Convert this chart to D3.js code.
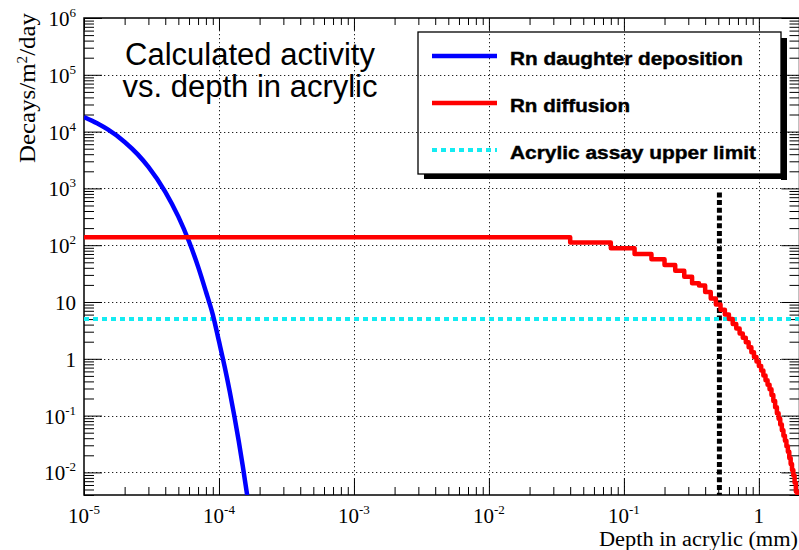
<!DOCTYPE html>
<html>
<head>
<meta charset="utf-8">
<script src="https://cdn.jsdelivr.net/npm/d3@7"></script>
<style>
  html, body { margin: 0; padding: 0; background: #fff; }
  svg { display: block; }
</style>
</head>
<body>
<svg id="chart" width="799" height="550"></svg>
<script>
// ---------- data ----------
const blueX = [1.0e-5, 1.25e-5, 1.5e-5, 2.0e-5, 2.5e-5, 3.0e-5, 4.0e-5, 5.0e-5, 6.0e-5, 7.0e-5, 8.0e-5, 9.0e-5, 1.0e-4, 1.1e-4, 1.2e-4, 1.3e-4, 1.4e-4, 1.5e-4, 1.64e-4];
const blueY = [1.81e4, 1.40e4, 1.09e4, 6.58e3, 3.97e3, 2.39e3, 871, 318, 116, 42, 15.3, 6.0, 2.03, 0.74, 0.27, 0.098, 0.036, 0.013, 0.0032];

const redX = [1e-5, 0.04, 0.08, 0.12, 0.16, 0.20, 0.24, 0.28, 0.32, 0.36, 0.40, 0.44, 0.48, 0.52, 0.56, 0.60, 0.64, 0.68, 0.72, 0.76,
              0.80, 0.84, 0.88, 0.92, 0.96, 1.00, 1.04, 1.08, 1.12, 1.16, 1.20, 1.24, 1.28, 1.32, 1.36, 1.40, 1.44, 1.48, 1.52, 1.56,
              1.60, 1.64, 1.68, 1.72, 1.76, 1.80, 1.84, 1.88, 1.92, 1.96, 2.00];
const redY = [138, 112, 88, 70, 56.5, 44.8, 35.5, 27.9, 21.3, 19.5, 15, 11.5, 9.0, 7.3, 6.0, 5.0, 4.1, 3.4, 2.8, 2.35,
              1.95, 1.6, 1.3, 1.08, 0.9, 0.75, 0.62, 0.51, 0.42, 0.35, 0.29, 0.23, 0.18, 0.14, 0.11, 0.088, 0.07, 0.055, 0.044, 0.036,
              0.029, 0.023, 0.018, 0.014, 0.011, 0.0088, 0.0066, 0.0046, 0.0032, 0.0022, 0.0022];

const assayLimit = 5.0;          // cyan dashed level
const markerDepth = 0.51;        // black dashed vertical (mm)
const markerTop = 850;

const xMajor = [1e-5, 1e-4, 1e-3, 1e-2, 1e-1, 1];
const xLabels = [["10","-5"],["10","-4"],["10","-3"],["10","-2"],["10","-1"],["1",""]];
const yMajor = [1e-2, 1e-1, 1, 10, 1e2, 1e3, 1e4, 1e5, 1e6];
const yLabels = [["10","-2"],["10","-1"],["1",""],["10",""],["10","2"],["10","3"],["10","4"],["10","5"],["10","6"]];
const xGrid = [1e-4, 1e-3, 1e-2, 1e-1, 1];
const yGrid = [1e-2, 1e-1, 1, 10, 1e2, 1e3, 1e4, 1e5];

const legendNames = ["Rn daughter deposition", "Rn diffusion", "Acrylic assay upper limit"];
const titleLines = ["Calculated activity", "vs. depth in acrylic"];
const xTitle = "Depth in acrylic (mm)";

// ---------- layout ----------
const L = 84, R = 799.5, T = 18, B = 495;
const svg = d3.select("#chart");
const x = d3.scaleLog().domain([1e-5, 2]).range([L, R]);
const y = d3.scaleLog().domain([0.004, 1e6]).range([B, T]);

function minorTicks(lo, hi, kLo, kHi) {
  const out = [];
  for (let k = kLo; k <= kHi; k++)
    for (let m = 2; m <= 9; m++) {
      const v = m * Math.pow(10, k);
      if (v >= lo && v <= hi) out.push(v);
    }
  return out;
}
const xMinor = minorTicks(1e-5, 2, -5, 0);
const yMinor = minorTicks(0.004, 1e6, -3, 5);

svg.append("defs").append("clipPath").attr("id", "plotclip")
  .append("rect").attr("x", L).attr("y", T).attr("width", R - L).attr("height", B - T);

// grid
const grid = svg.append("g").attr("stroke", "#222").attr("stroke-width", 1).attr("stroke-dasharray", "1.3,2.7");
grid.selectAll(".gx").data(xGrid).join("line")
  .attr("x1", d => Math.round(x(d)) + 0.5).attr("x2", d => Math.round(x(d)) + 0.5).attr("y1", T).attr("y2", B);
grid.selectAll(".gy").data(yGrid).join("line")
  .attr("y1", d => Math.round(y(d)) + 0.5).attr("y2", d => Math.round(y(d)) + 0.5).attr("x1", L).attr("x2", R);

// axes ticks
function styleAxis(g) {
  g.select(".domain").remove();
  g.selectAll("line").attr("stroke", "#000").attr("stroke-width", 1);
}
svg.append("g").attr("transform", `translate(0,${B})`)
  .call(d3.axisBottom(x).tickValues(xMajor).tickSize(-17).tickSizeOuter(0).tickFormat("")).call(styleAxis);
svg.append("g").attr("transform", `translate(0,${B})`)
  .call(d3.axisBottom(x).tickValues(xMinor).tickSize(-8).tickSizeOuter(0).tickFormat("")).call(styleAxis);
svg.append("g").attr("transform", `translate(0,${T})`)
  .call(d3.axisTop(x).tickValues(xMajor).tickSize(-12).tickSizeOuter(0).tickFormat("")).call(styleAxis);
svg.append("g").attr("transform", `translate(0,${T})`)
  .call(d3.axisTop(x).tickValues(xMinor).tickSize(-7).tickSizeOuter(0).tickFormat("")).call(styleAxis);
svg.append("g").attr("transform", `translate(${L},0)`)
  .call(d3.axisLeft(y).tickValues(yMajor).tickSize(-18).tickSizeOuter(0).tickFormat("")).call(styleAxis);
svg.append("g").attr("transform", `translate(${L},0)`)
  .call(d3.axisLeft(y).tickValues(yMinor).tickSize(-10).tickSizeOuter(0).tickFormat("")).call(styleAxis);
svg.append("g").attr("transform", `translate(${R},0)`)
  .call(d3.axisRight(y).tickValues(yMajor).tickSize(-18).tickSizeOuter(0).tickFormat("")).call(styleAxis);
svg.append("g").attr("transform", `translate(${R},0)`)
  .call(d3.axisRight(y).tickValues(yMinor).tickSize(-10).tickSizeOuter(0).tickFormat("")).call(styleAxis);

// frame
svg.append("rect").attr("x", L).attr("y", T).attr("width", R - L).attr("height", B - T)
  .attr("fill", "none").attr("stroke", "#000").attr("stroke-width", 1.5);

// curves
const plot = svg.append("g").attr("clip-path", "url(#plotclip)");
plot.append("line")
  .attr("x1", x(markerDepth)).attr("x2", x(markerDepth))
  .attr("y1", y(markerTop)).attr("y2", B)
  .attr("stroke", "#000").attr("stroke-width", 5).attr("stroke-dasharray", "5,2.7");
plot.append("line")
  .attr("x1", L).attr("x2", R).attr("y1", y(assayLimit)).attr("y2", y(assayLimit))
  .attr("stroke", "#14ecf2").attr("stroke-width", 4).attr("stroke-dasharray", "5,4");
const blueData = blueX.map((v, i) => [v, blueY[i]]);
plot.append("path").datum(blueData)
  .attr("d", d3.line().x(d => x(d[0])).y(d => y(d[1])).curve(d3.curveMonotoneX))
  .attr("fill", "none").attr("stroke", "#0000ff").attr("stroke-width", 4.5);
const redData = redX.map((v, i) => [v, redY[i]]);
plot.append("path").datum(redData)
  .attr("d", d3.line().x(d => x(d[0])).y(d => y(d[1])).curve(d3.curveStepAfter))
  .attr("fill", "none").attr("stroke", "#ff0000").attr("stroke-width", 4.5).attr("stroke-linejoin", "round");

// tick labels
const serif = "'Liberation Serif', 'Times New Roman', serif";
const xl = svg.append("g").attr("font-family", serif).attr("fill", "#000");
xMajor.forEach((v, i) => {
  const t = xl.append("text").attr("x", x(v)).attr("y", 523).attr("text-anchor", "middle").attr("font-size", 21);
  t.append("tspan").text(xLabels[i][0]);
  if (xLabels[i][1]) t.append("tspan").attr("dy", -9).attr("font-size", 13).text(xLabels[i][1]);
});
yMajor.forEach((v, i) => {
  const t = xl.append("text").attr("x", 76).attr("y", y(v) + 8).attr("text-anchor", "end").attr("font-size", 21);
  t.append("tspan").text(yLabels[i][0]);
  if (yLabels[i][1]) t.append("tspan").attr("dy", -9).attr("font-size", 13).text(yLabels[i][1]);
});

// axis titles
xl.append("text").attr("x", 798).attr("y", 545.5).attr("text-anchor", "end").attr("font-size", 20)
  .attr("textLength", 199).attr("lengthAdjust", "spacingAndGlyphs").text(xTitle);
const yt = xl.append("text").attr("transform", "translate(35,13) rotate(-90)")
  .attr("text-anchor", "end").attr("font-size", 23)
  .attr("textLength", 150).attr("lengthAdjust", "spacingAndGlyphs");
yt.append("tspan").text("Decays/m");
yt.append("tspan").attr("dy", -8).attr("font-size", 14).text("2");
yt.append("tspan").attr("dy", 8).text("/day");

// title
const sans = "'Liberation Sans', Arial, Helvetica, sans-serif";
titleLines.forEach((s, i) => {
  svg.append("text").attr("x", 250).attr("y", 65 + i * 32).attr("text-anchor", "middle")
    .attr("font-family", sans).attr("font-size", 31).attr("fill", "#000").text(s);
});

// legend
const lg = svg.append("g");
const bx = 418, by = 32, bw = 363, bh = 142, sh = 6;
lg.append("rect").attr("x", bx + bw).attr("y", by + sh).attr("width", sh).attr("height", bh).attr("fill", "#000");
lg.append("rect").attr("x", bx + sh).attr("y", by + bh).attr("width", bw).attr("height", 5).attr("fill", "#000");
lg.append("rect").attr("x", bx).attr("y", by).attr("width", bw).attr("height", bh)
  .attr("fill", "none").attr("stroke", "#000").attr("stroke-width", 1.3);
const legendStyles = [
  {stroke: "#0000ff", dash: null, w: 4.5, len: 233},
  {stroke: "#ff0000", dash: null, w: 4.5, len: 120},
  {stroke: "#14ecf2", dash: "5,4", w: 4, len: 246}
];
legendNames.forEach((name, i) => {
  const cy = 56 + i * 47;
  const st = legendStyles[i];
  const ln = lg.append("line").attr("x1", 432).attr("x2", 497).attr("y1", cy).attr("y2", cy)
    .attr("stroke", st.stroke).attr("stroke-width", st.w);
  if (st.dash) ln.attr("stroke-dasharray", st.dash);
  lg.append("text").attr("x", 510).attr("y", cy + 8.5)
    .attr("font-family", sans).attr("font-weight", "bold").attr("font-size", 18)
    .attr("textLength", st.len).attr("lengthAdjust", "spacingAndGlyphs")
    .attr("fill", "#000").attr("stroke", "#000").attr("stroke-width", 0.4).text(name);
});
</script>
</body>
</html>
